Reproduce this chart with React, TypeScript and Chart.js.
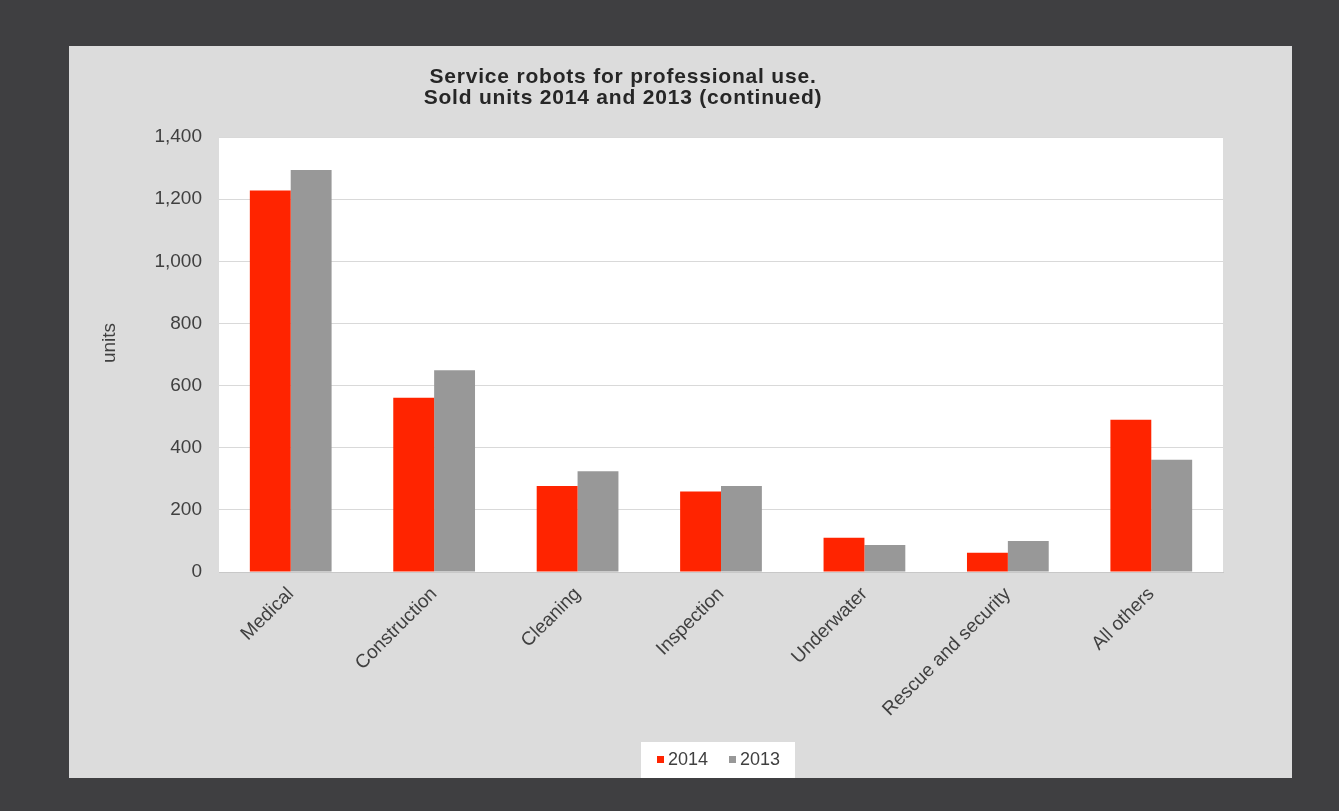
import React, { useEffect, useRef } from 'react';
import { Chart, registerables } from 'chart.js';

Chart.register(...registerables);

const categories = ['Medical', 'Construction', 'Cleaning', 'Inspection', 'Underwater', 'Rescue and security', 'All others'];
const units2014 = [1228, 561, 277, 259, 110, 62, 490];
const units2013 = [1294, 649, 324, 277, 87, 100, 361];
const seriesLabels = ['2014', '2013'];
const seriesColors = ['#ff2400', '#989898'];
const titleLines = ['Service robots for professional use.', 'Sold units 2014 and 2013 (continued)'];
const yAxisTitle = 'units';
const yMax = 1400;
const yStep = 200;

const W = 1339;
const H = 811;

const fmt = (v: number) => String(v).replace(/\B(?=(\d{3})+(?!\d))/g, ',');

const decorPlugin = {
  id: 'decor',
  beforeDraw(chart: any) {
    const { ctx, chartArea } = chart;
    ctx.save();
    ctx.fillStyle = '#3f3f41';
    ctx.fillRect(0, 0, W, H);
    ctx.fillStyle = '#dcdcdc';
    ctx.fillRect(69, 46, 1223, 732);
    ctx.fillStyle = '#ffffff';
    ctx.fillRect(chartArea.left, chartArea.top, chartArea.right - chartArea.left, chartArea.bottom - chartArea.top);
    ctx.restore();
  },
  afterDraw(chart: any) {
    const { ctx } = chart;
    ctx.save();
    // title
    ctx.fillStyle = '#262626';
    ctx.font = 'bold 21px "Liberation Sans", Arial, sans-serif';
    try { (ctx as any).letterSpacing = '0.8px'; } catch (e) {}
    ctx.textAlign = 'center';
    ctx.textBaseline = 'alphabetic';
    ctx.fillText(titleLines[0], 623, 83);
    ctx.fillText(titleLines[1], 623, 104);
    try { (ctx as any).letterSpacing = '0px'; } catch (e) {}
    // y title
    ctx.save();
    ctx.translate(115, 343);
    ctx.rotate(-Math.PI / 2);
    ctx.font = '19px "Liberation Sans", Arial, sans-serif';
    ctx.fillStyle = '#404040';
    ctx.textAlign = 'center';
    ctx.fillText(yAxisTitle, 0, 0);
    ctx.restore();
    // legend
    ctx.fillStyle = '#ffffff';
    ctx.fillRect(641, 742, 154, 36);
    ctx.font = '18px "Liberation Sans", Arial, sans-serif';
    ctx.textAlign = 'left';
    const items = [
      { x: 657, tx: 668 },
      { x: 729, tx: 740 },
    ];
    items.forEach((it, i) => {
      ctx.fillStyle = seriesColors[i];
      ctx.fillRect(it.x, 756, 7, 7);
      ctx.fillStyle = '#404040';
      ctx.fillText(seriesLabels[i], it.tx, 765);
    });
    ctx.restore();
  },
};

export default function App() {
  const ref = useRef<HTMLCanvasElement | null>(null);
  useEffect(() => {
    if (!ref.current) return;
    const chart = new Chart(ref.current, {
      type: 'bar',
      data: {
        labels: categories,
        datasets: [
          { label: seriesLabels[0], data: units2014, backgroundColor: seriesColors[0], barPercentage: 1, categoryPercentage: 0.57 },
          { label: seriesLabels[1], data: units2013, backgroundColor: seriesColors[1], barPercentage: 1, categoryPercentage: 0.57 },
        ],
      },
      options: {
        responsive: false,
        animation: false,
        layout: { padding: { left: 69, top: 137, right: W - 1223, bottom: 79 } },
        plugins: { legend: { display: false }, title: { display: false }, tooltip: { enabled: false } },
        scales: {
          x: {
            afterFit: (s: any) => { s.height = 160; },
            grid: { display: false, drawTicks: false },
            border: { display: true, color: '#c8c8c8' },
            ticks: {
              minRotation: 45,
              maxRotation: 45,
              padding: 11,
              color: '#404040',
              font: { family: '"Liberation Sans", Arial, sans-serif', size: 19 },
            },
          },
          y: {
            min: 0,
            max: yMax,
            afterFit: (s: any) => { s.width = 150; },
            grid: { color: '#d9d9d9', drawTicks: false },
            border: { display: false },
            ticks: {
              stepSize: yStep,
              padding: 17,
              color: '#404040',
              font: { family: '"Liberation Sans", Arial, sans-serif', size: 19 },
              callback: (v: any) => fmt(Number(v)),
            },
          },
        },
      },
      plugins: [decorPlugin],
    });
    return () => chart.destroy();
  }, []);
  return (
    <div style={{ position: 'absolute', left: 0, top: 0, width: W, height: H, background: '#3f3f41' }}>
      <canvas ref={ref} width={W} height={H} style={{ display: 'block', width: W, height: H }} />
    </div>
  );
}
